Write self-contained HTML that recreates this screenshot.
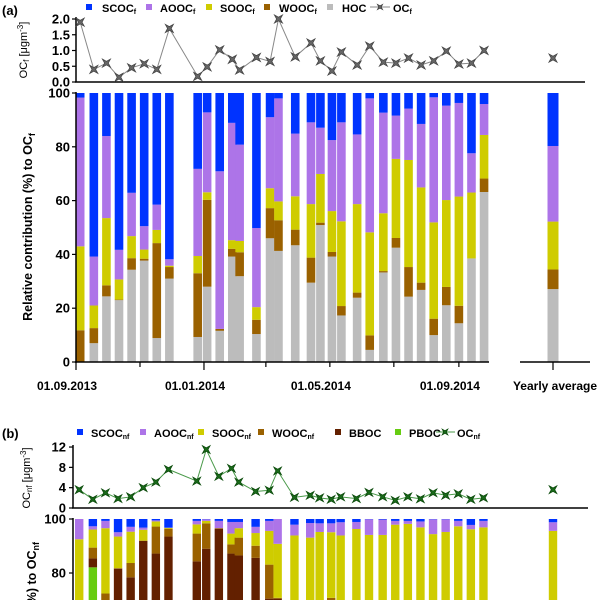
<!DOCTYPE html>
<html><head><meta charset="utf-8"><style>
html,body{margin:0;padding:0;background:#fff;overflow:hidden}
svg{display:block;font-family:"Liberation Sans",sans-serif;font-weight:bold}
</style></head><body>
<svg id="chart" width="600" height="600" viewBox="0 0 600 600" xmlns="http://www.w3.org/2000/svg"></svg>
<script>
// sample dates as day offsets from 01.09.2013
const days=[4,17,29,41,53,65,77,89,116,125,137,149,156,172,185,193,209,224,233,244,253,268,280,293,305,317,329,341,353,365,377,389];
// panel (a) – fine fraction
const ocF=[1.9,0.4,0.6,0.15,0.45,0.58,0.4,1.7,0.18,0.48,1.02,0.72,0.38,0.78,0.65,2.0,0.8,1.24,0.67,0.35,0.95,0.54,1.14,0.63,0.6,0.76,0.54,0.67,0.98,0.57,0.6,1.0];
const ocFAvg=0.76;
const hocF=[0,7,24.4,23,34.3,37.7,8.9,31,9.3,28,11.6,39.2,31.9,10.4,46,41.3,43.4,29.5,50.9,39.2,17.3,23.9,4.5,33.3,42.5,24.3,26.8,10,21.1,14.4,38.5,63.2];
const woocF=[11.8,5.6,4.1,0.2,4.3,0.7,35.3,4.3,23.7,32.3,0.7,2.9,8.9,5.3,11.2,11.4,5.8,9.3,0.9,1.7,3.5,1.9,5.4,0.5,3.6,11,2.7,6.1,6.8,6.5,0,5];
const soocF=[31.2,8.4,25,7.5,8.2,3.4,4.9,0.5,6.4,2.8,0,3.2,4.2,4.7,7.4,7,12.4,19.9,18.1,15.2,31.5,32.9,38.3,21.5,29.4,39.8,35.4,35.8,32.3,40.6,24.5,16.2];
const aoocF=[55.3,18.2,30.5,11,16.1,8.7,9.4,2.4,32.4,29.7,58.6,43.6,35.8,29.4,26.4,38.3,23.3,30.4,17.2,26.4,36.8,25.9,49.8,37.4,16.1,19.1,23.6,46.5,35.1,34.8,14.6,11.5];
const avgF=[27.1,7.3,17.8,28.1];
// panel (b) – non-fine fraction
const ocNF=[3.6,1.7,3.0,1.85,2.2,4.0,5.1,7.6,5.3,11.5,6.25,7.8,5.1,3.25,3.5,7.3,2.1,2.5,2.0,1.7,2.2,1.85,3.06,2.2,1.5,2.2,1.8,3.0,2.5,2.8,1.7,2.0];
const ocNFAvg=3.6;
const pbocNF=[0,82.1,0,0,0,0,0,0,0,0,0,0,0,0,0,0,0,0,0,0,0,0,0,0,0,0,0,0,0,0,0,0];
const bbocNF=[0,3.3,65,81.6,78.4,91.9,87.2,93.5,84.3,89,96.3,87.2,86.5,85.6,70.5,70.5,0,0,0,0,0,0,0,0,0,0,0,0,0,0,0,0];
const woocNF=[0,4.0,7.4,0.2,5.3,0.1,10,2.9,10.3,9.4,0.3,3.4,6.6,4.5,12.6,0.3,0,0,0,70.8,0,0,0,0,0,0,0,0,0,0,0,0];
const soocNF=[92.5,6.7,24.2,11.7,11.6,4,1.9,0.3,3.4,0.9,0,4,3.5,4.7,12.5,20,93.9,93.1,95.2,24.3,93.9,96.3,94.1,94.1,97.9,98.2,96.9,94.4,95.2,97.3,96.2,96.9];
const aoocNF=[7.5,1.2,2.7,1.6,1.8,0.8,0.4,0.1,1.3,0.6,2.7,4.3,2.3,2.3,3.7,9.2,4,5.4,3.2,3.3,4.9,2.6,5.8,5.7,1.4,1.1,2.2,5.5,4.7,2,1.6,2.4];
const avgNF=[0,0,0,95.6,3.2];
const tickDays=[0,61,122,181,242,303,365];
const dateLabels=["01.09.2013","01.01.2014","01.05.2014","01.09.2014"];

const C={scoc:"#0033ff",aooc:"#ad74e8",sooc:"#cfcc00",wooc:"#9a6100",hoc:"#bcbcbc",bboc:"#632000",pboc:"#66cc11"};
const svg=document.getElementById('chart');
const NS="http://www.w3.org/2000/svg";
function el(tag,attrs,parent){const e=document.createElementNS(NS,tag);for(const k in attrs)e.setAttribute(k,attrs[k]);(parent||svg).appendChild(e);return e;}
function txt(x,y,s,size,anchor,parent){const t=el('text',{x:x,y:y,'font-size':size,'text-anchor':anchor||'middle'},parent);t.innerHTML=s;return t;}

// scales
const xA=d=>76+d*1.049, xB=d=>75+d*1.05;
const yA=v=>362-v*2.69, yAl=v=>82-v*31.5;
const yBl=v=>508-v*5.08;
function yBf(v){return 519+(100-v)*2.7;}

function star(g,cx,cy,r,fill,stroke){
  const a=r, b=r*0.45;
  const pts=[[cx-a,cy-a],[cx,cy-b],[cx+a,cy-a],[cx+b,cy],[cx+a,cy+a],[cx,cy+b],[cx-a,cy+a],[cx-b,cy]];
  return el('polygon',{points:pts.map(q=>q.join(',')).join(' '),fill:fill,stroke:stroke,'stroke-width':0.8},g);
}

// ===== panel (a)
txt(2,15,"(a)",13,"start");
const legA=el('g',{});


const la=[[86,102,"SCOC","f",C.scoc],[146,160,"AOOC","f",C.aooc],[206,220,"SOOC","f",C.sooc],[264,279,"WOOC","f",C.wooc],[327,342,"HOC","",C.hoc]];
la.forEach(l=>{const g=el('g',{},legA);
  el('rect',{x:l[0],y:4,width:6,height:6,fill:l[4]},g);
  txt(l[1],12,l[2]+(l[3]?"<tspan font-size='7' dy='2'>"+l[3]+"</tspan>":""),11,"start",g);});
el('line',{x1:370,y1:7,x2:390,y2:7,stroke:'#888','stroke-width':1},legA);
star(legA,380,7,2.5,'#666','#444');
txt(393,12,"OC<tspan font-size='7' dy='2'>f</tspan>",11,"start",legA);

// top line plot (a)
const topA=el('g',{});
el('line',{x1:76,y1:17,x2:76,y2:82,stroke:'#000','stroke-width':1.5},topA);
el('line',{x1:75,y1:82,x2:585,y2:82,stroke:'#000','stroke-width':1.5},topA);
[0,0.5,1,1.5,2].forEach(v=>{el('line',{x1:72,y1:yAl(v),x2:76,y2:yAl(v),stroke:'#000','stroke-width':1.2},topA);txt(70,yAl(v)+4.5,v.toFixed(1),13,"end",topA);});
const ya=el('text',{transform:'translate(27,50) rotate(-90)','font-size':11,'text-anchor':'middle',fill:'#000','font-weight':'normal'},topA);

ya.innerHTML="OC<tspan font-size='8' dy='2'>f</tspan><tspan dy='-2'> [μgm</tspan><tspan font-size='8' dy='-4'>-3</tspan><tspan dy='4'>]</tspan>";
el('polyline',{points:days.map((d,i)=>xA(d)+','+yAl(ocF[i])).join(' '),fill:'none',stroke:'#888','stroke-width':1},topA);
days.forEach((d,i)=>{const p=star(topA,xA(d),yAl(ocF[i]),4,'#666','#444');});
star(topA,553,yAl(ocFAvg),4,'#666','#444');

// main bars (a)
const barsA=el('g',{});
function stackA(cx,w,vals){let c=0;const cols=[C.hoc,C.wooc,C.sooc,C.aooc,C.scoc];
  vals.forEach((v,k)=>{const r=el('rect',{x:cx-w/2,y:yA(c+v),width:w,height:v*2.69,fill:cols[k]},barsA);c+=v;});}
days.forEach((d,i)=>{const vals=[hocF[i],woocF[i],soocF[i],aoocF[i]];const s=vals.reduce((a,b)=>a+b,0);vals.push(100-s);stackA(xA(d),8.6,vals);});
{const s=avgF.reduce((a,b)=>a+b,0);stackA(553,11,[...avgF,100-s]);}
el('line',{x1:76,y1:92,x2:76,y2:363,stroke:'#000','stroke-width':1.5});
[0,20,40,60,80,100].forEach(v=>{el('line',{x1:72,y1:yA(v),x2:76,y2:yA(v),stroke:'#000','stroke-width':1.2});txt(70,yA(v)+4.5,String(v),13,"end");});
el('line',{x1:75,y1:362,x2:489,y2:362,stroke:'#000','stroke-width':1.5});
el('line',{x1:520,y1:362,x2:590,y2:362,stroke:'#000','stroke-width':1.5});
tickDays.forEach(d=>el('line',{x1:xA(d),y1:362,x2:xA(d),y2:(d%122==0?370:367),stroke:'#000','stroke-width':1.2}));
el('line',{x1:553,y1:362,x2:553,y2:370,stroke:'#000','stroke-width':1.2});
[0,122,242,365].forEach((d,i)=>{const t=txt(xA(d)-9,390,dateLabels[i],12,"middle");});
txt(555,390,"Yearly average",12,"middle");
const yt=el('text',{transform:'translate(32,227) rotate(-90)','font-size':12.5,'text-anchor':'middle'});

yt.innerHTML="Relative contribution (%) to OC<tspan font-size='9' dy='3'>f</tspan>";

// ===== panel (b)
txt(2,438,"(b)",13,"start");
const legB=el('g',{});
const lb=[[77,91,"SCOC","nf",C.scoc],[140,154,"AOOC","nf",C.aooc],[198,212,"SOOC","nf",C.sooc],[258,272,"WOOC","nf",C.wooc],[335,349,"BBOC","",C.bboc],[395,409,"PBOC","",C.pboc]];
lb.forEach(l=>{const g=el('g',{},legB);
  el('rect',{x:l[0],y:429,width:6,height:6,fill:l[4]},g);
  txt(l[1],437,l[2]+(l[3]?"<tspan font-size='7' dy='2'>"+l[3]+"</tspan>":""),11,"start",g);});
el('line',{x1:436,y1:432,x2:455,y2:432,stroke:'#4a9a4a','stroke-width':1},legB);
star(legB,445,432,2.8,'#1a6a1a','#0a4a0a');
txt(457,437,"OC<tspan font-size='7' dy='2'>nf</tspan>",11,"start",legB);

const topB=el('g',{});
el('line',{x1:73,y1:445,x2:73,y2:508,stroke:'#000','stroke-width':1.5},topB);
el('line',{x1:72,y1:508,x2:588,y2:508,stroke:'#000','stroke-width':1.5},topB);
[0,4,8,12].forEach(v=>{el('line',{x1:69,y1:yBl(v),x2:73,y2:yBl(v),stroke:'#000','stroke-width':1.2},topB);txt(66,yBl(v)+4.5,String(v),13,"end",topB);});
const yb=el('text',{transform:'translate(30,478) rotate(-90)','font-size':11,'text-anchor':'middle','font-weight':'normal'},topB);

yb.innerHTML="OC<tspan font-size='8' dy='2'>nf</tspan><tspan dy='-2'> [μgm</tspan><tspan font-size='8' dy='-4'>-3</tspan><tspan dy='4'>]</tspan>";
el('polyline',{points:days.map((d,i)=>xB(d)+','+yBl(ocNF[i])).join(' '),fill:'none',stroke:'#4a9a4a','stroke-width':1},topB);
days.forEach((d,i)=>{const p=star(topB,xB(d),yBl(ocNF[i]),3.8,'#1a6a1a','#0a4a0a');});
star(topB,553,yBl(ocNFAvg),3.8,'#1a6a1a','#0a4a0a');

const barsB=el('g',{});
function stackB(cx,w,vals){let c=0;const cols=[C.pboc,C.bboc,C.wooc,C.sooc,C.aooc,C.scoc];
  vals.forEach((v,k)=>{if(v<=0){return;}const r=el('rect',{x:cx-w/2,y:yBf(c+v),width:w,height:v*2.7,fill:cols[k]},barsB);c+=v;});}
days.forEach((d,i)=>{const vals=[pbocNF[i],bbocNF[i],woocNF[i],soocNF[i],aoocNF[i]];const s=vals.reduce((a,b)=>a+b,0);vals.push(100-s);stackB(xB(d),8.4,vals);});
{const s=avgNF.reduce((a,b)=>a+b,0);stackB(553,8.4,[...avgNF,100-s]);}
el('line',{x1:73,y1:518,x2:73,y2:600,stroke:'#000','stroke-width':1.5});
[80,100].forEach(v=>{el('line',{x1:69,y1:yBf(v),x2:73,y2:yBf(v),stroke:'#000','stroke-width':1.2});txt(66,yBf(v)+4.5,String(v),13,"end");});
const ytb=el('text',{transform:'translate(36,542) rotate(-90)','font-size':12.5,'text-anchor':'end'});

ytb.innerHTML="Relative contribution (%) to OC<tspan font-size='9' dy='3'>nf</tspan>";
</script>
</body></html>
